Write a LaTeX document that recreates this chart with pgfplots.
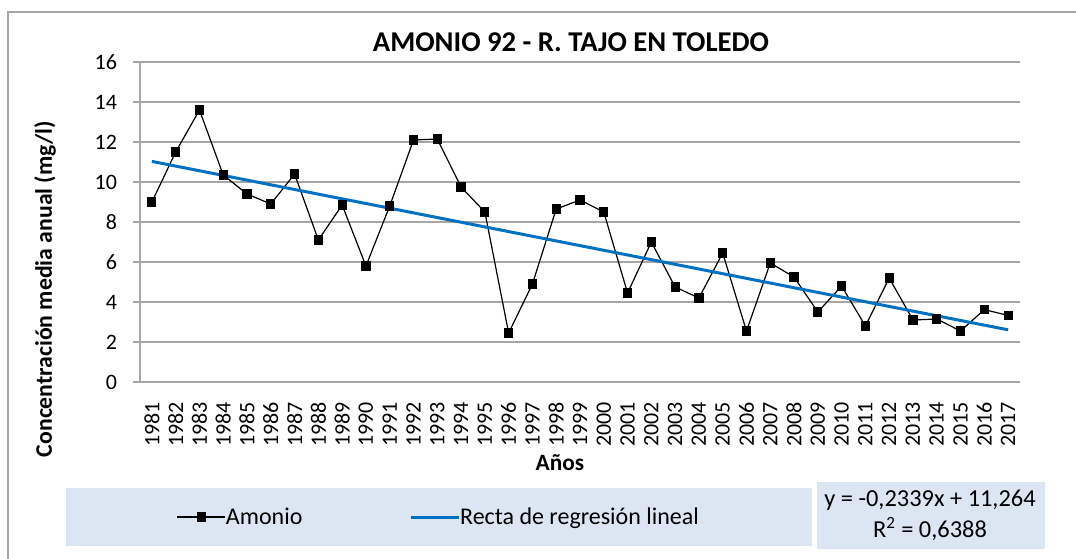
\documentclass[border=0pt]{standalone}
\usepackage{pgfplots}
\pgfplotsset{compat=1.18}
\usepackage{fontspec}
\setmainfont{Carlito}
\definecolor{gridc}{HTML}{A6A6A6}
\definecolor{legbg}{HTML}{DCE6F2}
\definecolor{regblue}{HTML}{0070C0}
\begin{document}
\begin{tikzpicture}
\begin{scope}[x=0.75pt,y=-0.75pt]
\useasboundingbox (0,0) rectangle (1076,558);
\fill[legbg] (66,488) rectangle (812,546);
\fill[legbg] (817,482) rectangle (1045,549);
\draw[gridc, line width=1.1pt] (8,562) -- (8,12) -- (1080,12);
\node[font=\fontsize{21.5}{25}\selectfont\bfseries] at (571,42) {AMONIO 92 - R. TAJO EN TOLEDO};
\node[font=\fontsize{17.8}{21}\selectfont\bfseries, rotate=90] at (45,289) {Concentración media anual (mg/l)};
\node[font=\fontsize{17.5}{21}\selectfont\bfseries] at (560,463) {Años};
\node[font=\fontsize{18.3}{23}\selectfont, align=center] at (930,515) {y = -0,2339x + 11,264\\R\textsuperscript{2} = 0,6388};
\end{scope}
\begin{axis}[
  at={(105pt,-286.5pt)}, anchor=south west,
  scale only axis, width=660pt, height=240pt,
  xmin=1980.5, xmax=2017.5, ymin=0, ymax=16,
  xtick={1981,1982,...,2017}, ytick={0,2,...,16},
  axis lines*=left, axis line style={-, draw=gridc, line width=1.1pt},
  ymajorgrids, grid style={gridc, line width=1.1pt},
  tick align=outside, major tick length=5.25pt,
  xtick style={draw=none}, ytick style={draw=gridc, line width=1.1pt},
  /pgf/number format/assume math mode=true,
  /pgf/number format/1000 sep={},
  tick label style={font=\fontsize{16.5}{20}\selectfont},
  xticklabel style={yshift=-6.5pt, rotate=90, anchor=east},
  yticklabel style={xshift=-8.5pt},
  clip=false,
  legend columns=2,
  legend style={at={(0.34,-0.422)}, anchor=center, draw=none, fill=none,
    font=\fontsize{18}{21}\selectfont,
    /tikz/every odd column/.append style={column sep=-2pt},
    /tikz/every even column/.append style={column sep=78pt}},
  legend image code/.code={\draw[mark repeat=2,mark phase=2,#1] plot coordinates {(0pt,0pt) (18pt,0pt) (36pt,0pt)};},
]
\addplot[black, line width=0.9pt, mark=square*, mark size=3pt, mark options={solid}] coordinates {
(1981,9.0) (1982,11.5) (1983,13.6) (1984,10.35) (1985,9.4) (1986,8.9) (1987,10.4)
(1988,7.1) (1989,8.85) (1990,5.8) (1991,8.8) (1992,12.1) (1993,12.15) (1994,9.75)
(1995,8.5) (1996,2.45) (1997,4.9) (1998,8.65) (1999,9.1) (2000,8.5) (2001,4.45)
(2002,7.0) (2003,4.75) (2004,4.2) (2005,6.45) (2006,2.55) (2007,5.95) (2008,5.25)
(2009,3.5) (2010,4.8) (2011,2.8) (2012,5.2) (2013,3.1) (2014,3.15) (2015,2.55)
(2016,3.62) (2017,3.33)};
\addlegendentry{Amonio}
\addplot[regblue, line width=2.25pt] coordinates {(1981,11.0301) (2017,2.6097)};
\addlegendentry{Recta de regresión lineal}
\end{axis}
\end{tikzpicture}
\end{document}
